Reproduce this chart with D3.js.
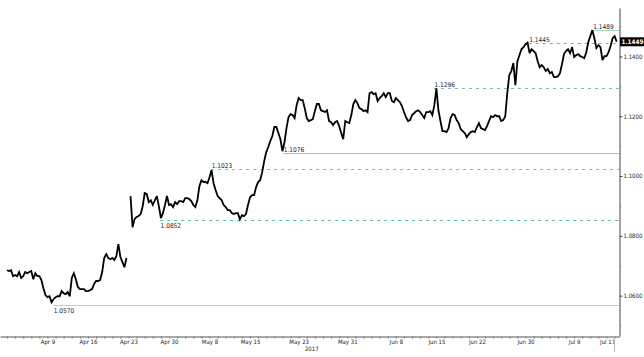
<!DOCTYPE html>
<html><head><meta charset="utf-8">
<script src="https://cdn.jsdelivr.net/npm/d3@7"></script>
<style>html,body{margin:0;padding:0;background:#fff;} svg{display:block;}</style>
</head><body><svg id="c" width="644" height="357"></svg>
<script>
// ---------- DATA ----------
const samplesPerDay = 4; // samples per trading day
const eurusd = [
1.0685,1.0682,1.0685,1.0665,1.0669,1.0665,1.0679,1.0659,1.0665,1.0679,
1.0675,1.0679,1.0682,1.0655,1.0675,1.0665,1.0665,1.0652,1.0625,1.0602,
1.0595,1.0598,1.0578,1.0588,1.0595,1.0598,1.0598,1.0615,1.0608,1.0605,
1.0612,1.0598,1.0659,1.0675,1.0655,1.0629,1.0622,1.0622,1.0622,1.0615,
1.0615,1.0618,1.0622,1.0639,1.0649,1.0649,1.0652,1.0679,1.0726,1.0739,
1.0726,1.0722,1.0726,1.0719,1.0732,1.0772,1.0729,1.0712,1.0695,1.0726,
null,1.0933,1.0829,1.0856,1.0863,1.0866,1.0873,1.0899,1.0943,1.0940,
1.0913,1.0919,1.0903,1.0919,1.0933,1.0899,1.0859,1.0876,1.0903,1.0933,
1.0903,1.0906,1.0896,1.0913,1.0906,1.0916,1.0916,1.0913,1.0926,1.0926,
1.0923,1.0916,1.0903,1.0896,1.0919,1.0966,1.0986,1.0980,1.0980,1.0976,
1.0996,1.1020,1.0976,1.0953,1.0933,1.0926,1.0919,1.0903,1.0896,1.0886,
1.0886,1.0876,1.0873,1.0876,1.0876,1.0855,1.0869,1.0866,1.0873,1.0903,
1.0929,1.0936,1.0936,1.0963,1.0980,1.0986,1.1013,1.1050,1.1080,1.1097,
1.1117,1.1134,1.1164,1.1164,1.1144,1.1123,1.1083,1.1113,1.1160,1.1197,
1.1207,1.1204,1.1194,1.1237,1.1261,1.1254,1.1254,1.1227,1.1194,1.1184,
1.1187,1.1190,1.1217,1.1241,1.1241,1.1220,1.1217,1.1214,1.1220,1.1184,
1.1180,1.1170,1.1180,1.1184,1.1167,1.1144,1.1123,1.1184,1.1180,1.1177,
1.1204,1.1241,1.1254,1.1244,1.1227,1.1224,1.1217,1.1220,1.1214,1.1277,
1.1281,1.1274,1.1277,1.1251,1.1261,1.1267,1.1277,1.1264,1.1277,1.1277,
1.1251,1.1247,1.1261,1.1254,1.1247,1.1234,1.1214,1.1197,1.1184,1.1187,
1.1204,1.1210,1.1217,1.1220,1.1214,1.1204,1.1194,1.1214,1.1214,1.1217,
1.1204,1.1237,1.1293,1.1220,1.1184,1.1150,1.1150,1.1147,1.1160,1.1194,
1.1207,1.1204,1.1187,1.1177,1.1157,1.1150,1.1144,1.1130,1.1140,1.1147,
1.1150,1.1147,1.1164,1.1177,1.1160,1.1157,1.1154,1.1167,1.1184,1.1200,
1.1197,1.1204,1.1200,1.1200,1.1184,1.1187,1.1200,1.1277,1.1338,1.1351,
1.1378,1.1304,1.1384,1.1404,1.1424,1.1431,1.1441,1.1446,1.1411,1.1424,
1.1418,1.1411,1.1384,1.1364,1.1371,1.1364,1.1351,1.1358,1.1344,1.1348,
1.1331,1.1331,1.1334,1.1344,1.1374,1.1408,1.1418,1.1424,1.1411,1.1431,
1.1398,1.1404,1.1408,1.1401,1.1398,1.1394,1.1414,1.1448,1.1468,1.1488,
1.1461,1.1428,1.1438,1.1431,1.1388,1.1401,1.1401,1.1414,1.1435,1.1461,
1.1468,1.1449
];
const tickLabels = ["Apr 9","Apr 16","Apr 23","Apr 30","May 8","May 15","May 23","May 31","Jun 8","Jun 15","Jun 22","Jun 30","Jul 9","Jul 17"];
const tickDays   = [5,10,15,20,25,30,36,42,48,53,58,64,70,75];
const yearLabel = "2017";
const yMajor = [1.06,1.08,1.10,1.12,1.14];
const yMinor = [1.05,1.07,1.09,1.11,1.13,1.15];
const levelValues = [1.0570,1.0852,1.1023,1.1076,1.1296,1.1445,1.1489];
const levelDays   = [5.7,18.9,25.2,34.1,52.7,64.4,72.3];
const lastPrice = 1.1449;

// ---------- STYLE / LAYOUT ----------
const levelStyle = ["solidMint","dashed","dashedGray","solidGray","dashedGray","dashed","solidMint"];
const labelBelow = [true,true,false,false,false,false,false];
const axisX = 619.5, axisY = 336.5;
const svg = d3.select("#c");
const x = d3.scaleLinear().domain([-0.86, 75.6]).range([0, axisX]);
const y = d3.scaleLinear().domain([1.0465, 1.1562]).range([336, 8]);
const FONT = "'DejaVu Sans Condensed','DejaVu Sans',sans-serif";
const colors = {solidMint:"#a3dcc6", solidGray:"#a9bdb6", dashed:"#55c29f", dashedGray:"#7fb8a6"};

// level lines
const lv = svg.append("g");
levelValues.forEach((v,k)=>{
  const st = levelStyle[k];
  const yy = Math.round(y(v))+0.5;
  lv.append("line").attr("x1",x(levelDays[k])).attr("x2",axisX).attr("y1",yy).attr("y2",yy)
    .attr("stroke", colors[st]).attr("stroke-width",1)
    .attr("stroke-dasharray", st.startsWith("dashed") ? "3,4" : null);
  lv.append("text").attr("x",x(levelDays[k])+0.5).attr("y", labelBelow[k] ? yy+7.5 : yy-1.8)
    .attr("font-family",FONT).attr("font-size",6.5).attr("fill","#1a1a1a")
    .text(d3.format(".4f")(v));
});

// price line
const line = d3.line().defined(v=>v!=null).x((v,i)=>x(i/samplesPerDay)).y(v=>y(v));
svg.append("path").datum(eurusd).attr("d",line).attr("fill","none")
  .attr("stroke","#000").attr("stroke-width",1.8).attr("stroke-linejoin","miter").attr("stroke-miterlimit",3);

// x axis
const gx = svg.append("g").attr("transform",`translate(0,${axisY})`);
gx.call(d3.axisBottom(x).tickValues(d3.range(0,76)).tickSize(2).tickSizeOuter(0).tickFormat(""));
gx.select(".domain").attr("stroke","#555");
gx.selectAll(".tick line").attr("stroke","#777");
const gxl = svg.append("g").attr("transform",`translate(0,${axisY})`);
gxl.call(d3.axisBottom(x).tickValues(tickDays).tickSize(0).tickPadding(3.2)
  .tickFormat((d,i)=>tickLabels[i]));
gxl.select(".domain").remove();
gxl.selectAll("text").attr("font-family",FONT).attr("font-size",6).attr("fill","#222")
  .attr("text-anchor",(d,i)=> i===tickLabels.length-1 ? "end" : "middle");
svg.append("text").attr("x",axisX/2+2).attr("y",351).attr("text-anchor","middle")
  .attr("font-family",FONT).attr("font-size",6).attr("fill","#222").text(yearLabel);
svg.append("line").attr("x1",Math.round(x(tickDays[tickDays.length-1]))-0.5)
  .attr("x2",Math.round(x(tickDays[tickDays.length-1]))-0.5)
  .attr("y1",axisY).attr("y2",352).attr("stroke","#bbb");

// right y axis
const gy = svg.append("g").attr("transform",`translate(${axisX},0)`);
gy.call(d3.axisRight(y).tickValues(yMajor).tickSize(3).tickSizeOuter(0).tickPadding(1)
  .tickFormat(d3.format(".4f")));
gy.select(".domain").attr("stroke","#444");
gy.selectAll(".tick line").attr("stroke","#444");
gy.selectAll("text").attr("font-family",FONT).attr("font-size",6).attr("fill","#222");
const gym = svg.append("g").attr("transform",`translate(${axisX},0)`);
gym.call(d3.axisRight(y).tickValues(yMinor).tickSize(2).tickFormat(""));
gym.select(".domain").remove();
gym.selectAll(".tick line").attr("stroke","#999");

// last price tag
const ty = y(lastPrice);
svg.append("rect").attr("x",axisX+0.5).attr("y",ty-4.5).attr("width",24).attr("height",9).attr("fill","#000");
svg.append("text").attr("x",axisX+2).attr("y",ty+2.4).attr("font-family",FONT)
  .attr("font-size",6.3).attr("font-weight","bold").attr("fill","#fff").text(d3.format(".4f")(lastPrice));
</script></body></html>
